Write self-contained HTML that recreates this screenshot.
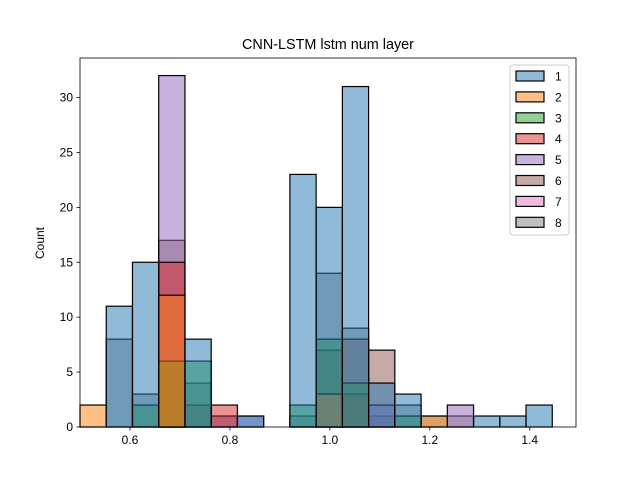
<!DOCTYPE html>
<html><head><meta charset="utf-8"><style>body{margin:0;background:#fff}svg{font-family:"Liberation Sans","DejaVu Sans",sans-serif}</style></head>
<body>
<svg id="chart" width="640" height="480" xmlns="http://www.w3.org/2000/svg">
<rect width="640" height="480" fill="#fff"/>
<text x="328" y="49" font-size="14.4" text-anchor="middle">CNN-LSTM lstm num layer</text>
<g id="bars"></g>
<g id="axes"></g>
<g id="legend"></g>
</svg>
<script>
const seriesNames = ["1","2","3","4","5","6","7","8"];
const colors = ["#1f77b4","#ff7f0e","#2ca02c","#d62728","#9467bd","#8c564b","#e377c2","#7f7f7f"];
const binStart = 0.5;
const binWidth = 0.0525;
// counts per bin (19 bins) for each series
const s1 = [0,11,15,0,8,0,1,0,23,20,31,4,3,0,0,1,1,2,0];
const s2 = [2,0,0,12,0,0,0,0,0,3,0,0,0,1,0,0,0,0,0];
const s3 = [0,0,2,6,6,0,0,0,2,8,4,0,1,0,0,0,0,0,0];
const s4 = [0,0,0,15,0,2,0,0,0,0,3,0,0,0,0,0,0,0,0];
const s5 = [0,0,0,32,0,1,1,0,0,0,0,2,0,0,2,0,0,0,0];
const s6 = [0,0,0,17,2,0,0,0,0,7,8,7,0,0,0,0,0,0,0];
const s7 = [0,0,0,0,0,0,0,0,0,0,0,0,0,0,0,0,0,0,0];
const s8 = [0,8,3,6,4,1,0,0,1,14,9,1,2,1,1,0,0,0,0];
const series = [s1,s2,s3,s4,s5,s6,s7,s8];
const xTicks = [0.6,0.8,1.0,1.2,1.4];
const xTickLabels = ["0.6","0.8","1.0","1.2","1.4"];
const yTicks = [0,5,10,15,20,25,30];

const L=80,R=576,T=58,B=427;
const xMin=0.5,xMax=1.4925,yMax=33.6;
const xs=v=>L+(v-xMin)/(xMax-xMin)*(R-L);
const ys=v=>B-v/yMax*(B-T);
const NS="http://www.w3.org/2000/svg";
function mk(tag,attrs,parent){const e=document.createElementNS(NS,tag);for(const k in attrs)e.setAttribute(k,attrs[k]);parent.appendChild(e);return e;}
const bars=document.getElementById('bars');
for(let s=series.length-1;s>=0;s--){
  series[s].forEach((c,i)=>{
    if(c<=0)return;
    const x0=xs(binStart+i*binWidth),x1=xs(binStart+(i+1)*binWidth);
    const r=mk('rect',{x:x0,y:ys(c),width:x1-x0,height:ys(0)-ys(c),fill:colors[s],'fill-opacity':0.5,stroke:'#000','stroke-width':1.2},bars);
    
    
  });
}
const ax=document.getElementById('axes');
const fr=mk('rect',{x:L,y:T,width:R-L,height:B-T,fill:'none',stroke:'#000','stroke-width':0.8},ax);


xTicks.forEach((v,i)=>{
  mk('line',{x1:xs(v),x2:xs(v),y1:B,y2:B+3.5,stroke:'#000','stroke-width':0.8},ax);
  const t=mk('text',{x:xs(v),y:B+17,'font-size':12,'text-anchor':'middle'},ax);
  t.textContent=xTickLabels[i];
  
  
});
yTicks.forEach(v=>{
  mk('line',{x1:L-3.5,x2:L,y1:ys(v),y2:ys(v),stroke:'#000','stroke-width':0.8},ax);
  const t=mk('text',{x:L-7,y:ys(v)+4,'font-size':12,'text-anchor':'end'},ax);
  t.textContent=v;
  
  
});
const yt=mk('text',{x:44,y:243,'font-size':12,'text-anchor':'middle',transform:'rotate(-90 44 243)'},ax);
yt.textContent='Count';


const lg=document.getElementById('legend');
const box=mk('rect',{x:510,y:65,width:59,height:170,rx:3,fill:'#fff','fill-opacity':0.8,stroke:'#ccc','stroke-width':1},lg);


seriesNames.forEach((n,i)=>{
  const cy=76+i*20.9;
  const p=mk('rect',{x:516,y:cy-5,width:28,height:10,fill:colors[i],'fill-opacity':0.5,stroke:'#000','stroke-width':1.2},lg);
  
  
  const t=mk('text',{x:555,y:cy+4.5,'font-size':12},lg);
  t.textContent=n;
  
  
});
</script>
</body></html>
